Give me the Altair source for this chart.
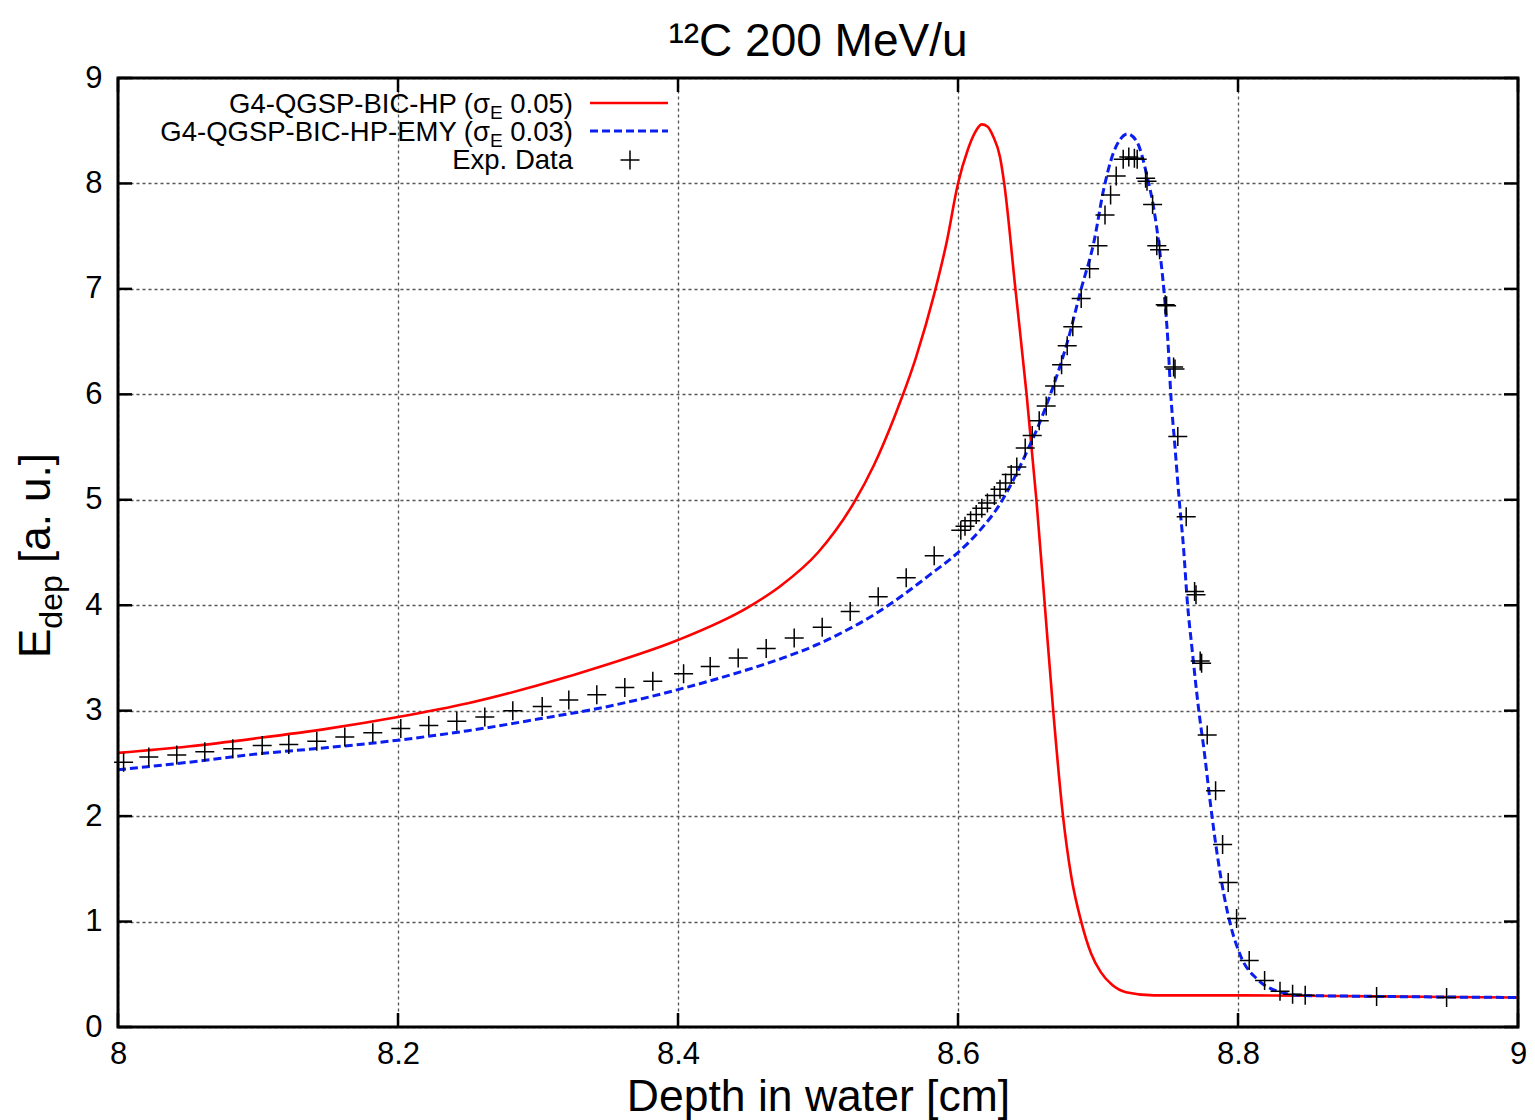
import altair as alt
import pandas as pd

# ---------------- data ----------------
red_x = [8.000, 8.050, 8.100, 8.150, 8.200, 8.250, 8.300, 8.350, 8.400, 8.450,
         8.473, 8.500, 8.526, 8.540, 8.555, 8.570, 8.583, 8.592, 8.600, 8.607,
         8.612, 8.617, 8.621, 8.625, 8.630, 8.633, 8.641, 8.649, 8.656, 8.662,
         8.668, 8.675, 8.681, 8.688, 8.695, 8.702, 8.710, 8.720, 8.740, 8.800,
         8.900, 9.000]
red_y = [2.60, 2.66, 2.74, 2.83, 2.94, 3.07, 3.24, 3.44, 3.67, 3.98,
         4.18, 4.50, 4.98, 5.33, 5.80, 6.35, 6.95, 7.45, 8.00, 8.32,
         8.48, 8.56, 8.54, 8.45, 8.25, 8.00, 7.00, 6.00, 5.00, 4.00,
         3.00, 2.00, 1.42, 1.00, 0.70, 0.52, 0.40, 0.33, 0.30, 0.30,
         0.29, 0.28]

blue_x = [8.000, 8.050, 8.100, 8.150, 8.200, 8.250, 8.300, 8.350, 8.400, 8.450,
          8.475, 8.500, 8.520, 8.540, 8.560, 8.580, 8.600, 8.615, 8.630, 8.640,
          8.650, 8.658, 8.666, 8.678, 8.688, 8.697, 8.704, 8.711, 8.716, 8.721,
          8.728, 8.735, 8.740, 8.744, 8.747, 8.750, 8.752, 8.755, 8.758, 8.761,
          8.764, 8.767, 8.772, 8.776, 8.780, 8.785, 8.790, 8.795, 8.802, 8.814,
          8.828, 8.845, 8.900, 9.000]
blue_y = [2.44, 2.51, 2.59, 2.65, 2.72, 2.81, 2.92, 3.04, 3.20, 3.39,
          3.50, 3.63, 3.76, 3.91, 4.09, 4.29, 4.50, 4.70, 4.96, 5.20,
          5.48, 5.72, 6.00, 6.49, 7.00, 7.44, 7.94, 8.29, 8.42, 8.47,
          8.39, 8.07, 7.75, 7.37, 7.00, 6.49, 6.00, 5.50, 5.00, 4.56,
          4.00, 3.61, 3.00, 2.60, 2.15, 1.65, 1.25, 0.95, 0.67, 0.45,
          0.34, 0.30, 0.29, 0.28]

exp_x = [8.004, 8.022, 8.042, 8.062, 8.082, 8.103, 8.122, 8.142, 8.162, 8.182,
         8.202, 8.222, 8.242, 8.262, 8.282, 8.303, 8.322, 8.342, 8.362, 8.382,
         8.404, 8.423, 8.443, 8.463, 8.483, 8.503, 8.523, 8.543, 8.563, 8.583,
         8.602, 8.605, 8.609, 8.613, 8.617, 8.621, 8.626, 8.630, 8.634, 8.638,
         8.642, 8.648, 8.653, 8.658, 8.663, 8.669, 8.674, 8.678, 8.682, 8.688,
         8.694, 8.700, 8.705, 8.709, 8.713, 8.718, 8.722, 8.726, 8.728, 8.734,
         8.735, 8.739, 8.742, 8.744, 8.748, 8.749, 8.754, 8.755, 8.757, 8.763,
         8.769, 8.770, 8.773, 8.774, 8.778, 8.784, 8.789, 8.793, 8.799, 8.808,
         8.819, 8.830, 8.839, 8.848, 8.899, 8.949]
exp_y = [2.51, 2.56, 2.58, 2.61, 2.64, 2.67, 2.68, 2.71, 2.75, 2.79,
         2.83, 2.86, 2.90, 2.94, 3.00, 3.04, 3.10, 3.15, 3.22, 3.28,
         3.35, 3.42, 3.50, 3.59, 3.69, 3.79, 3.94, 4.08, 4.26, 4.47,
         4.71, 4.75, 4.80, 4.86, 4.92, 4.97, 5.04, 5.10, 5.16, 5.24,
         5.31, 5.49, 5.61, 5.75, 5.89, 6.08, 6.28, 6.46, 6.64, 6.91,
         7.19, 7.41, 7.70, 7.89, 8.07, 8.23, 8.25, 8.24, 8.23, 8.05,
         8.02, 7.80, 7.41, 7.37, 6.85, 6.84, 6.26, 6.24, 5.60, 4.84,
         4.13, 4.10, 3.47, 3.45, 2.77, 2.24, 1.73, 1.37, 1.03, 0.63,
         0.44, 0.34, 0.31, 0.30, 0.29, 0.28]

x_ticks = [8, 8.2, 8.4, 8.6, 8.8, 9]
y_ticks = [0, 1, 2, 3, 4, 5, 6, 7, 8, 9]

title_text = "¹²C 200 MeV/u"
x_title = "Depth in water [cm]"
legend_labels = [("G4-QGSP-BIC-HP (σ", "E", "0.05)"),
                 ("G4-QGSP-BIC-HP-EMY (σ", "E", "0.03)"),
                 ("Exp. Data", "", "")]

# ---------------- styling ----------------
W, H = 1400, 949
FONT = "Liberation Sans"
RED = "#ff0000"
BLUE = "#0a1ef0"
PLUS = "M-1,0L1,0M0,-1L0,1"
TICK = 14

ARIAL = {' ': 278, '(': 333, ')': 333, '-': 333, '.': 278, 'E': 667, 'σ': 578}
for d in "0123456789":
    ARIAL[d] = 556


def tw(s, size):
    return sum(ARIAL.get(c, 600) for c in s) * size / 1000.0


red_df = pd.DataFrame({"x": red_x, "y": red_y})
blue_df = pd.DataFrame({"x": blue_x, "y": blue_y})
exp_df = pd.DataFrame({"x": exp_x, "y": exp_y})
xt_df = pd.DataFrame({"x": x_ticks})
yt_df = pd.DataFrame({"y": y_ticks})
one = pd.DataFrame({"k": [0]})

xs = alt.Scale(domain=[8, 9], nice=False, zero=False)
ys = alt.Scale(domain=[0, 9], nice=False)

grid_kw = dict(grid=True, gridColor="#555555", gridDash=[3, 3], gridWidth=1.3,
               ticks=False, domain=False, labelFont=FONT, labelFontSize=31,
               labelColor="black", labelFlush=False)

x_main = alt.Axis(orient="bottom", values=x_ticks, format="~g", labelPadding=12,
                  title=x_title, titleFont=FONT, titleFontSize=44.5,
                  titleFontWeight="normal", titleColor="black", titlePadding=6,
                  **grid_kw)
y_main = alt.Axis(orient="left", values=y_ticks, format="d", labelPadding=16,
                  title=None, **grid_kw)

X = alt.X("x:Q", scale=xs, axis=x_main, title=x_title)
Y = alt.Y("y:Q", scale=ys, axis=y_main, title=None)

red_line = alt.Chart(red_df).mark_line(color=RED, strokeWidth=2.6,
                                       interpolate="monotone").encode(x=X, y=Y)
blue_line = alt.Chart(blue_df).mark_line(color=BLUE, strokeWidth=3, strokeDash=[8, 4],
                                         interpolate="monotone").encode(x=X, y=Y)
exp_pts = alt.Chart(exp_df).mark_point(shape=PLUS, size=361, filled=False, color="black",
                                       strokeWidth=1.5, opacity=1).encode(x=X, y=Y)

# inward tick marks on all four sides (gnuplot style)
tick_style = dict(color="black", strokeWidth=2.5)
ticks_bottom = alt.Chart(xt_df).mark_rule(**tick_style).encode(
    x=X, y=alt.value(H), y2=alt.value(H - TICK))
ticks_top = alt.Chart(xt_df).mark_rule(**tick_style).encode(
    x=X, y=alt.value(0), y2=alt.value(TICK))
ticks_left = alt.Chart(yt_df).mark_rule(**tick_style).encode(
    y=Y, x=alt.value(0), x2=alt.value(TICK))
ticks_right = alt.Chart(yt_df).mark_rule(**tick_style).encode(
    y=Y, x=alt.value(W), x2=alt.value(W - TICK))

# plot frame drawn above the gridlines
frame = alt.Chart(one).mark_rect(fill=None, stroke="black", strokeWidth=3, fillOpacity=0).encode(
    x=alt.value(0), x2=alt.value(W), y=alt.value(0), y2=alt.value(H))


def txt(text, x, y, size, align="left", angle=0):
    return alt.Chart(one).mark_text(text=text, font=FONT, fontSize=size, align=align,
                                    baseline="alphabetic", angle=angle, color="black").encode(
        x=alt.value(x), y=alt.value(y))


annots = []
# legend
LX = 455
LS = 27.5
SS = 19
row_base = [35, 63, 91]
row_mid = [25, 53, 82]
for (main, sub, tail), yb in zip(legend_labels, row_base):
    if sub:
        annots.append(txt(tail, LX, yb, LS, align="right"))
        ex = LX - tw(tail, LS) - tw(" ", LS)
        annots.append(txt(sub, ex, yb + 6, SS, align="right"))
        annots.append(txt(main, ex - tw(sub, SS), yb, LS, align="right"))
    else:
        annots.append(txt(main, LX, yb, LS, align="right"))

annots.append(alt.Chart(one).mark_rule(color=RED, strokeWidth=2.6).encode(
    x=alt.value(472), x2=alt.value(550), y=alt.value(row_mid[0])))
annots.append(alt.Chart(one).mark_rule(color=BLUE, strokeWidth=3, strokeDash=[8, 4]).encode(
    x=alt.value(472), x2=alt.value(550), y=alt.value(row_mid[1])))
annots.append(alt.Chart(one).mark_point(shape=PLUS, size=361, filled=False, color="black",
                                        strokeWidth=1.5, opacity=1).encode(
    x=alt.value(512), y=alt.value(row_mid[2])))

# y-axis title with subscript
YT = 44
ys0 = 580
annots.append(txt("E", -68, ys0, YT, angle=270))
y1 = ys0 - tw("E", YT)
annots.append(txt("dep", -56, y1, 32, angle=270))
y2 = y1 - 1.668 * 32 - tw(" ", YT)
annots.append(txt("[a. u.]", -68, y2, YT, angle=270))

chart = alt.layer(
    red_line, blue_line, exp_pts, frame, ticks_bottom, ticks_top, ticks_left, ticks_right, *annots
).properties(
    width=W, height=H,
    title=alt.TitleParams(title_text, font=FONT, fontSize=46, fontWeight="normal",
                          color="black", anchor="middle", offset=-4),
    autosize=alt.AutoSizeParams(type="none"),
    padding={"left": 118, "top": 78, "right": 17, "bottom": 93},
).configure_view(stroke="black", strokeWidth=3).configure(background="white")

chart.save("out.html", embed_options={"renderer": "svg", "actions": False})
